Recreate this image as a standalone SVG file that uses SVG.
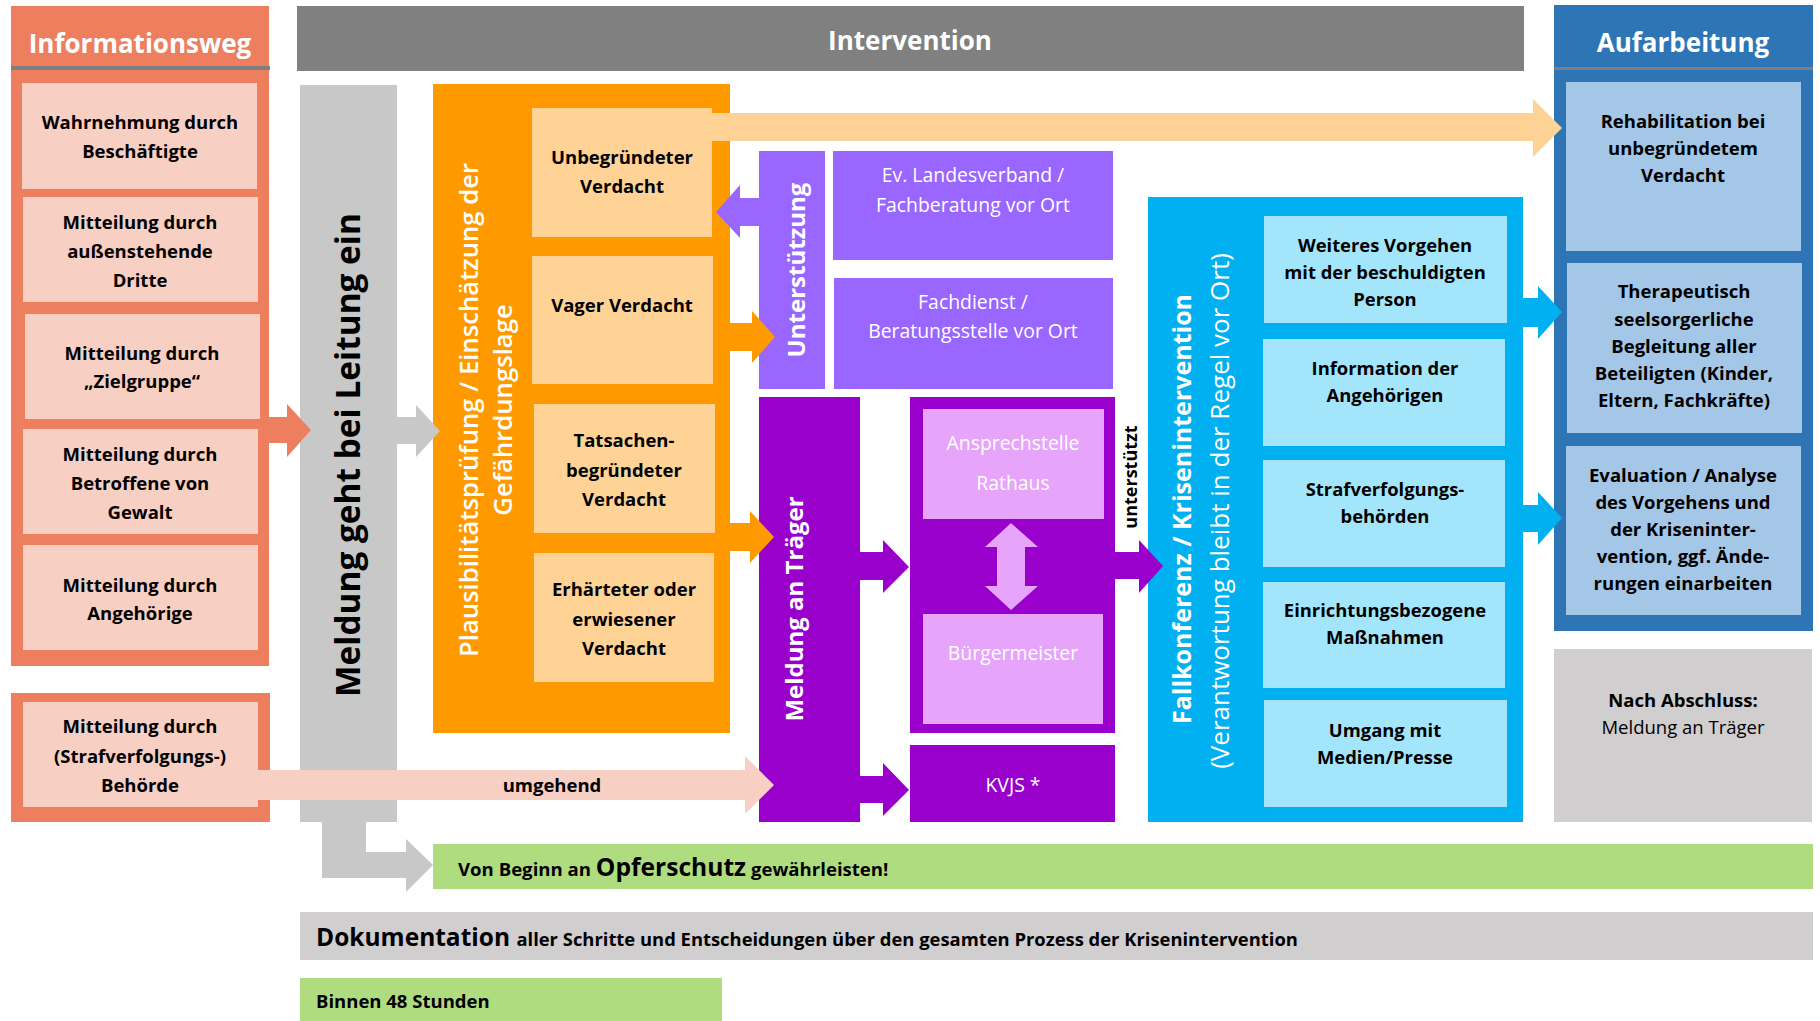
<svg xmlns="http://www.w3.org/2000/svg" width="1820" height="1021" viewBox="0 0 1820 1021">
<style>
text{font-family:'Open Sans','Noto Sans',sans-serif}
.hd{font-size:26px;font-weight:700;fill:#fff;text-anchor:middle}
.bx{font-size:18.5px;font-weight:700;fill:#000;text-anchor:middle}
.bb{font-size:18.4px;font-weight:700;fill:#000;text-anchor:middle}
.pw{font-size:19.4px;font-weight:400;fill:#fff;text-anchor:middle}
.salmon{fill:#ED7F5E}.lsalmon{fill:#F8CFC3}
.gray{fill:#C8C8C8}.orange{fill:#FF9900}.peach{fill:#FFD396}
.mpurple{fill:#9966FF}.dpurple{fill:#9900CC}.lpurple{fill:#E6A5FB}
.cyan{fill:#00B0F0}.lcyan{fill:#A3E6FC}
.dblue{fill:#2E75B6}.lblue{fill:#A4C7E8}
.lgray{fill:#D0CECE}.green{fill:#B0DC80}
</style>

<g id="informationsweg">
<rect class="salmon" x="11" y="6" width="258" height="660"/>
<rect x="11" y="66" width="259" height="4" fill="#7F7F7F"/>
<text class="hd" x="140" y="53">Informationsweg</text>
</g>
<g id="wahrnehmung">
<rect class="lsalmon" x="22" y="83" width="235" height="106"/>
<text class="bx" x="140" y="129">Wahrnehmung durch</text>
<text class="bx" x="140" y="158">Beschäftigte</text>
</g>
<g id="mitteilung-dritte">
<rect class="lsalmon" x="23" y="197" width="235" height="105"/>
<text class="bx" x="140" y="229">Mitteilung durch</text>
<text class="bx" x="140" y="258">außenstehende</text>
<text class="bx" x="140" y="287">Dritte</text>
</g>
<g id="mitteilung-zielgruppe">
<rect class="lsalmon" x="25" y="314" width="235" height="105"/>
<text class="bx" x="142" y="360">Mitteilung durch</text>
<text class="bx" x="142" y="388">„Zielgruppe“</text>
</g>
<g id="mitteilung-betroffene">
<rect class="lsalmon" x="23" y="429" width="235" height="105"/>
<text class="bx" x="140" y="461">Mitteilung durch</text>
<text class="bx" x="140" y="490">Betroffene von</text>
<text class="bx" x="140" y="519">Gewalt</text>
</g>
<g id="mitteilung-angehoerige">
<rect class="lsalmon" x="23" y="545" width="235" height="105"/>
<text class="bx" x="140" y="592">Mitteilung durch</text>
<text class="bx" x="140" y="620">Angehörige</text>
</g>
<g id="mitteilung-behoerde">
<rect class="salmon" x="11" y="693" width="259" height="129"/>
<rect class="lsalmon" x="23" y="702" width="235" height="105"/>
<text class="bx" x="140" y="733">Mitteilung durch</text>
<text class="bx" x="140" y="763">(Strafverfolgungs-)</text>
<text class="bx" x="140" y="792">Behörde</text>
</g>

<g id="intervention">
<rect x="297" y="6" width="1227" height="65" fill="#808080"/>
<text class="hd" x="910" y="50">Intervention</text>
</g>

<g id="meldung-leitung">
<rect class="gray" x="300" y="85" width="97" height="737"/>
<text transform="translate(360,455) rotate(-90)" style="font-size:33.4px;font-weight:700;fill:#000;text-anchor:middle">Meldung geht bei Leitung ein</text>
</g>

<g id="plausibilitaet">
<rect class="orange" x="433" y="84" width="297" height="649"/>
<text transform="translate(478,410) rotate(-90)" style="font-size:25.7px;font-weight:600;fill:#fff;text-anchor:middle">Plausibilitätsprüfung / Einschätzung der</text>
<text transform="translate(512,410) rotate(-90)" style="font-size:25.7px;font-weight:600;fill:#fff;text-anchor:middle">Gefährdungslage</text>
</g>
<g id="unbegruendet">
<rect class="peach" x="532" y="108" width="180" height="129"/>
<text class="bx" x="622" y="164">Unbegründeter</text>
<text class="bx" x="622" y="193">Verdacht</text>
</g>
<g id="vage">
<rect class="peach" x="532" y="256" width="181" height="128"/>
<text class="bx" x="622" y="312">Vager Verdacht</text>
</g>
<g id="tatsachen">
<rect class="peach" x="534" y="404" width="181" height="129"/>
<text class="bx" x="624" y="447">Tatsachen-</text>
<text class="bx" x="624" y="477">begründeter</text>
<text class="bx" x="624" y="506">Verdacht</text>
</g>
<g id="erhaertet">
<rect class="peach" x="534" y="553" width="180" height="129"/>
<text class="bx" x="624" y="596">Erhärteter oder</text>
<text class="bx" x="624" y="626">erwiesener</text>
<text class="bx" x="624" y="655">Verdacht</text>
</g>

<g id="unterstuetzung">
<rect class="mpurple" x="759" y="151" width="66" height="238"/>
<text transform="translate(805,270) rotate(-90)" style="font-size:24px;font-weight:700;fill:#fff;text-anchor:middle">Unterstützung</text>
</g>
<g id="landesverband">
<rect class="mpurple" x="833" y="151" width="280" height="109"/>
<text class="pw" x="973" y="182">Ev. Landesverband /</text>
<text class="pw" x="973" y="212">Fachberatung vor Ort</text>
</g>
<g id="fachdienst">
<rect class="mpurple" x="834" y="278" width="279" height="111"/>
<text class="pw" x="973" y="309">Fachdienst /</text>
<text class="pw" x="973" y="338">Beratungsstelle vor Ort</text>
</g>

<g id="meldung-traeger">
<rect class="dpurple" x="759" y="397" width="101" height="425"/>
<text transform="translate(803,609) rotate(-90)" style="font-size:24px;font-weight:700;fill:#fff;text-anchor:middle">Meldung an Träger</text>
</g>
<g id="rathaus">
<rect class="dpurple" x="910" y="397" width="205" height="336"/>
<rect class="lpurple" x="923" y="409" width="181" height="110"/>
<text class="pw" x="1013" y="450">Ansprechstelle</text>
<text class="pw" x="1013" y="490">Rathaus</text>
<rect class="lpurple" x="923" y="614" width="180" height="110"/>
<text class="pw" x="1013" y="660">Bürgermeister</text>
<polygon class="lpurple" points="1011,523 1038,547 1025,547 1025,586 1038,586 1011,610 985,586 997,586 997,547 985,547"/>
</g>
<g id="kvjs">
<rect class="dpurple" x="910" y="745" width="205" height="77"/>
<text class="pw" x="1013" y="792">KVJS *</text>
</g>

<g id="fallkonferenz">
<rect class="cyan" x="1148" y="197" width="375" height="625"/>
<text transform="translate(1191,509) rotate(-90)" style="font-size:25px;font-weight:700;fill:#fff;text-anchor:middle">Fallkonferenz / Krisenintervention</text>
<text transform="translate(1229,511) rotate(-90)" style="font-size:26px;font-weight:400;fill:#fff;text-anchor:middle">(Verantwortung bleibt in der Regel vor Ort)</text>
</g>
<g id="weiteres-vorgehen">
<rect class="lcyan" x="1264" y="216" width="243" height="107"/>
<text class="bb" x="1385" y="252">Weiteres Vorgehen</text>
<text class="bb" x="1385" y="279">mit der beschuldigten</text>
<text class="bb" x="1385" y="306">Person</text>
</g>
<g id="information-angehoerige">
<rect class="lcyan" x="1263" y="339" width="242" height="107"/>
<text class="bb" x="1385" y="375">Information der</text>
<text class="bb" x="1385" y="402">Angehörigen</text>
</g>
<g id="strafverfolgung">
<rect class="lcyan" x="1263" y="460" width="242" height="107"/>
<text class="bb" x="1385" y="496">Strafverfolgungs-</text>
<text class="bb" x="1385" y="523">behörden</text>
</g>
<g id="einrichtung">
<rect class="lcyan" x="1263" y="582" width="242" height="106"/>
<text class="bb" x="1385" y="617">Einrichtungsbezogene</text>
<text class="bb" x="1385" y="644">Maßnahmen</text>
</g>
<g id="medien">
<rect class="lcyan" x="1264" y="700" width="243" height="107"/>
<text class="bb" x="1385" y="737">Umgang mit</text>
<text class="bb" x="1385" y="764">Medien/Presse</text>
</g>

<g id="aufarbeitung">
<rect class="dblue" x="1554" y="5" width="259" height="626"/>
<rect x="1554" y="67" width="259" height="3" fill="#7F7F7F"/>
<text class="hd" x="1683" y="52">Aufarbeitung</text>
</g>
<g id="rehabilitation">
<rect class="lblue" x="1566" y="82" width="235" height="169"/>
<text class="bx" x="1683" y="128">Rehabilitation bei</text>
<text class="bx" x="1683" y="155">unbegründetem</text>
<text class="bx" x="1683" y="182">Verdacht</text>
</g>
<g id="therapeutisch">
<rect class="lblue" x="1567" y="263" width="235" height="170"/>
<text class="bx" x="1684" y="298">Therapeutisch</text>
<text class="bx" x="1684" y="326">seelsorgerliche</text>
<text class="bx" x="1684" y="353">Begleitung aller</text>
<text class="bx" x="1684" y="380">Beteiligten (Kinder,</text>
<text class="bx" x="1684" y="407">Eltern, Fachkräfte)</text>
</g>
<g id="evaluation">
<rect class="lblue" x="1566" y="446" width="235" height="169"/>
<text class="bx" x="1683" y="482">Evaluation / Analyse</text>
<text class="bx" x="1683" y="509">des Vorgehens und</text>
<text class="bx" x="1683" y="536">der Kriseninter-</text>
<text class="bx" x="1683" y="563">vention, ggf. Ände-</text>
<text class="bx" x="1683" y="590">rungen einarbeiten</text>
</g>
<g id="nach-abschluss">
<rect class="lgray" x="1554" y="649" width="258" height="173"/>
<text class="bx" x="1683" y="707">Nach Abschluss:</text>
<text x="1683" y="734" style="font-size:18.5px;font-weight:400;fill:#000;text-anchor:middle">Meldung an Träger</text>
</g>

<g id="opferschutz">
<rect class="green" x="433" y="844" width="1380" height="45"/>
<text x="458" y="876" style="font-size:18.6px;font-weight:700;fill:#000">Von Beginn an <tspan style="font-size:24.6px">Opferschutz</tspan> gewährleisten!</text>
</g>
<g id="dokumentation">
<rect class="lgray" x="300" y="912" width="1513" height="48"/>
<text x="316" y="946" style="font-size:24.5px;font-weight:700;fill:#000">Dokumentation <tspan style="font-size:18.4px">aller Schritte und Entscheidungen über den gesamten Prozess der Krisenintervention</tspan></text>
</g>
<g id="binnen-48">
<rect class="green" x="300" y="978" width="422" height="43"/>
<text x="316" y="1008" style="font-size:18.5px;font-weight:700;fill:#000">Binnen 48 Stunden</text>
</g>

<g id="connectors">
<polygon class="salmon" points="269,417 287,417 287,404 311,430 287,457 287,443 269,443"/>
<polygon class="gray" points="397,417 416,417 416,405 440,431 416,457 416,444 397,444"/>
<polygon class="peach" points="712,113 1533,113 1533,99 1562,128 1533,157 1533,141 712,141"/>
<polygon class="mpurple" points="759,198 740,198 740,185 716,212 740,238 740,226 759,226"/>
<polygon class="orange" points="730,323 752,323 752,311 775,337 752,363 752,351 730,351"/>
<polygon class="orange" points="730,523 750,523 750,511 774,537 750,563 750,551 730,551"/>
<polygon class="lsalmon" points="258,770 745,770 745,756 774,785 745,814 745,800 258,800"/>
<text x="552" y="792" style="font-size:18.5px;font-weight:700;fill:#000;text-anchor:middle">umgehend</text>
<polygon class="dpurple" points="860,552 883,552 883,540 909,567 883,593 883,580 860,580"/>
<polygon class="dpurple" points="860,776 883,776 883,763 909,790 883,816 883,803 860,803"/>
<polygon class="dpurple" points="1115,552 1139,552 1139,540 1163,566 1139,593 1139,579 1115,579"/>
<text transform="translate(1137,477) rotate(-90)" style="font-size:18px;font-weight:700;fill:#000;text-anchor:middle">unterstützt</text>
<polygon class="cyan" points="1523,298 1538,298 1538,286 1562,312 1538,339 1538,327 1523,327"/>
<polygon class="cyan" points="1523,505 1538,505 1538,492 1562,518 1538,545 1538,532 1523,532"/>
<polygon class="gray" points="322,822 366,822 366,852 406,852 406,839 433,865 406,892 406,878 322,878"/>
</g>
</svg>
